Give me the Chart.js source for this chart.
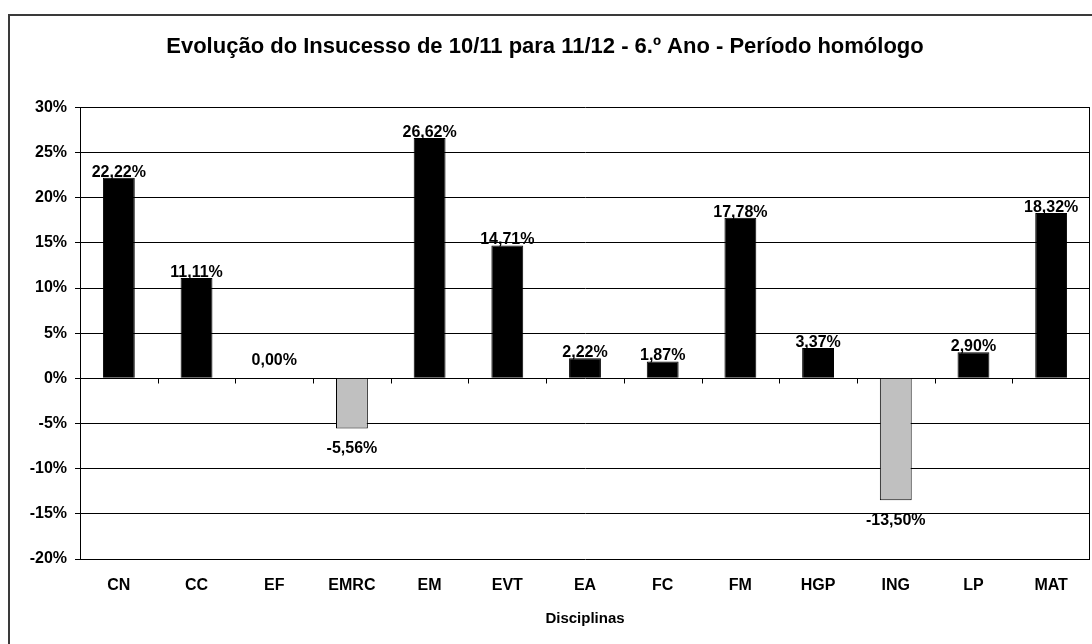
<!DOCTYPE html>
<html>
<head>
<meta charset="utf-8">
<title>Evolução do Insucesso</title>
<script src="https://cdn.jsdelivr.net/npm/chart.js@4.4.1/dist/chart.umd.min.js"></script>
<style>
  body { margin: 0; background: #fff; }
  #wrap { width: 1092px; height: 644px; position: relative; }
</style>
</head>
<body>
<div id="wrap"><canvas id="chart"></canvas></div>
<script>
// categories and values (percent)
const disciplinas = ['CN', 'CC', 'EF', 'EMRC', 'EM', 'EVT', 'EA', 'FC', 'FM', 'HGP', 'ING', 'LP', 'MAT'];
const evolucao = [22.22, 11.11, 0, -5.56, 26.62, 14.71, 2.22, 1.87, 17.78, 3.37, -13.50, 2.90, 18.32];
const yMin = -20;
const yMax = 30;
const yStep = 5;

const fontFamily = '"Liberation Sans", Arial, sans-serif';

function fmt(v) {
    return v.toFixed(2).replace('.', ',') + '%';
}

// frame, plot border, zero-line ticks and value labels
const extras = {
    id: 'extras',
    beforeDraw(chart) {
        const ctx = chart.ctx;
        ctx.save();
        ctx.strokeStyle = '#3a3a3a';
        ctx.lineWidth = 2;
        ctx.beginPath();
        ctx.moveTo(9, chart.height + 5);
        ctx.lineTo(9, 15);
        ctx.lineTo(chart.width + 5, 15);
        ctx.stroke();
        ctx.restore();
    },
    afterDatasetsDraw(chart) {
        const ctx = chart.ctx;
        const area = chart.chartArea;
        const y = chart.scales.y;
        const zero = Math.round(y.getPixelForValue(0)) + 0.5;
        ctx.save();
        ctx.strokeStyle = '#000';
        ctx.lineWidth = 1;
        ctx.beginPath();
        // right side of the plot
        ctx.moveTo(Math.round(area.right) - 0.5, area.top);
        ctx.lineTo(Math.round(area.right) - 0.5, area.bottom);
        // ticks on the zero line between categories
        const step = (area.right - area.left) / disciplinas.length;
        for (let k = 1; k < disciplinas.length; k++) {
            const x = Math.round(area.left + step * k) + 0.5;
            ctx.moveTo(x, zero);
            ctx.lineTo(x, zero + 5);
        }
        ctx.stroke();

        ctx.fillStyle = '#000';
        ctx.font = 'bold 16px ' + fontFamily;
        ctx.textAlign = 'center';
        const meta = chart.getDatasetMeta(0);
        meta.data.forEach((bar, i) => {
            const v = evolucao[i];
            if (v > 0) {
                ctx.textBaseline = 'alphabetic';
                ctx.fillText(fmt(v), bar.x, bar.y - 1);
            } else if (v === 0) {
                ctx.textBaseline = 'alphabetic';
                ctx.fillText(fmt(v), bar.x, bar.y - 13);
            } else {
                ctx.textBaseline = 'top';
                ctx.fillText(fmt(v), bar.x, bar.y + 12);
            }
        });
        ctx.restore();
    }
};

new Chart(document.getElementById('chart'), {
    type: 'bar',
    data: {
        labels: disciplinas,
        datasets: [{
            data: evolucao,
            backgroundColor: evolucao.map(v => v < 0 ? '#c0c0c0' : '#000000'),
            borderColor: '#000',
            borderWidth: 1,
            barPercentage: 0.41,
            categoryPercentage: 1
        }]
    },
    options: {
        responsive: true,
        maintainAspectRatio: false,
        animation: false,
        layout: { padding: { left: 0, right: 2, top: 0, bottom: 0 } },
        plugins: {
            legend: { display: false },
            tooltip: { enabled: false },
            title: {
                display: true,
                text: 'Evolução do Insucesso de 10/11 para 11/12 - 6.º Ano - Período homólogo',
                color: '#000',
                font: { family: fontFamily, size: 22, weight: 'bold' },
                padding: { top: 34, bottom: 47 }
            }
        },
        scales: {
            x: {
                grid: { display: false, drawTicks: false },
                border: { display: false },
                ticks: {
                    color: '#000',
                    padding: 17,
                    font: { family: fontFamily, size: 16, weight: 'bold' }
                },
                title: {
                    display: true,
                    text: 'Disciplinas',
                    color: '#000',
                    font: { family: fontFamily, size: 15, weight: 'bold' },
                    padding: { top: 0, bottom: 16 }
                },
                afterFit(scale) { scale.height = 85; }
            },
            y: {
                min: yMin,
                max: yMax,
                grid: { color: '#000', tickColor: '#000', tickLength: 5 },
                border: { display: true, color: '#000' },
                ticks: {
                    stepSize: yStep,
                    color: '#000',
                    padding: 8,
                    font: { family: fontFamily, size: 16, weight: 'bold' },
                    callback: v => v + '%'
                },
                afterFit(scale) { scale.width = 80; }
            }
        }
    },
    plugins: [extras]
});
</script>
</body>
</html>
